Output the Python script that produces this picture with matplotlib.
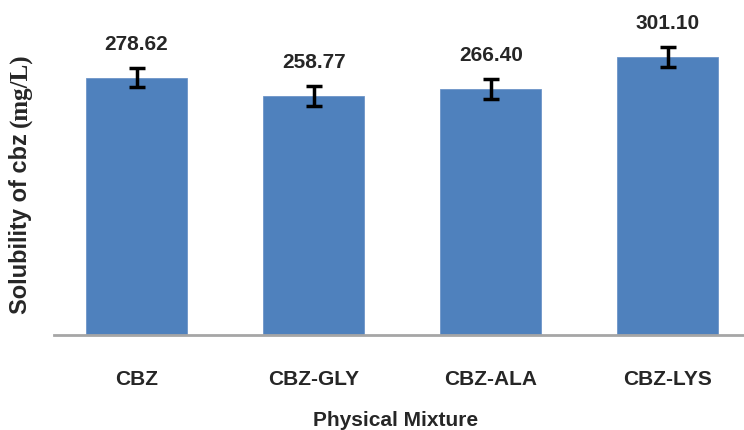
import matplotlib
matplotlib.use("Agg")
import matplotlib.pyplot as plt

# data
categories = ["CBZ", "CBZ-GLY", "CBZ-ALA", "CBZ-LYS"]
solubility = [278.62, 258.77, 266.40, 301.10]
errors = [10.6, 10.6, 10.5, 10.6]
value_labels = ["278.62", "258.77", "266.40", "301.10"]

plt.rcParams["font.family"] = ["Liberation Sans", "DejaVu Sans"]
text_color = "#262626"

fig = plt.figure(figsize=(7.44, 4.30), dpi=100)
ax = fig.add_axes([54 / 744, 95 / 430, 690 / 744, 335 / 430])

x = list(range(len(categories)))
ax.bar(x, solubility, width=0.57, color="#4F81BD", edgecolor="#6d95c8", linewidth=0.6, zorder=2)
ax.errorbar(x, solubility, yerr=errors, fmt="none", ecolor="black",
            elinewidth=2.5, capsize=5.8, capthick=2.5, zorder=3)

for xi, v, e, lab in zip(x, solubility, errors, value_labels):
    ax.annotate(lab, (xi, v + e), xytext=(0, 17), textcoords="offset points",
                ha="center", va="center", fontsize=15, fontweight="bold", color=text_color)

ax.set_xlim(-0.466, 3.43)
ax.set_ylim(0, 362.5)
ax.set_yticks([])
ax.set_xticks(x)
ax.set_xticklabels(categories, fontsize=15, fontweight="bold", color=text_color)
ax.tick_params(axis="x", length=0, pad=25)

for side in ["top", "right", "left"]:
    ax.spines[side].set_visible(False)
ax.spines["bottom"].set_color("#a6a6a6")
ax.spines["bottom"].set_linewidth(2)

fig.text(396 / 744, 1 - 421 / 430, "Physical Mixture", ha="center", va="center",
         fontsize=15, fontweight="bold", color=text_color)

# y label: sans part then serif part, stacked upward
fig.canvas.draw()
renderer = fig.canvas.get_renderer()
t1 = fig.text(21 / 744, 1 - 314 / 430, "Solubility of cbz", rotation=90,
              ha="center", va="bottom", fontsize=17, fontweight="bold", color=text_color)
bb = t1.get_window_extent(renderer=renderer)
top_frac = bb.y1 / fig.bbox.height
fig.text(21 / 744, top_frac + 6 / 430, "(mg/L)", rotation=90, ha="center", va="bottom",
         fontsize=18, fontweight="bold", color=text_color,
         family=["Liberation Serif", "DejaVu Serif"])

fig.savefig("out.png", dpi=100)
